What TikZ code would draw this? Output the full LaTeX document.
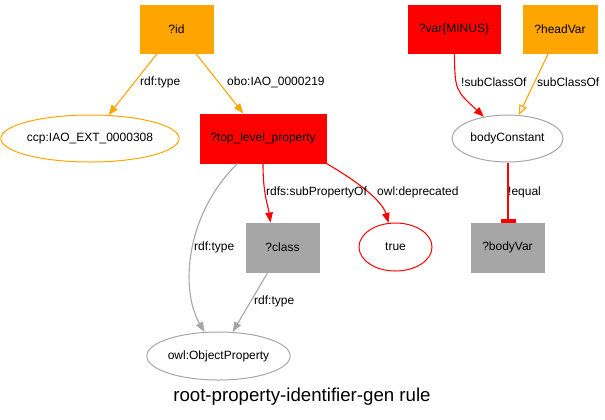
\documentclass[tikz,border=0pt]{standalone}
\usepackage{fontspec}
\setmainfont{Liberation Sans}
\usetikzlibrary{arrows.meta,shapes.geometric}
\definecolor{gvorange}{HTML}{FFA500}
\definecolor{gvred}{HTML}{FF0000}
\definecolor{gvgray}{HTML}{A6A6A6}
\begin{document}
\begin{tikzpicture}[x=1bp,y=-1bp,
  every node/.style={font=\fontsize{12bp}{14bp}\selectfont, text=black},
  boxnode/.style={rectangle, inner sep=0pt, minimum height=48bp, line width=1bp},
  obox/.style={boxnode, fill=gvorange, draw=gvorange},
  rbox/.style={boxnode, fill=gvred, draw=gvred},
  gbox/.style={boxnode, fill=gvgray, draw=gvgray},
  ell/.style={ellipse, inner sep=0pt, line width=1bp, minimum height=47bp},
  lbl/.style={anchor=west, inner sep=0pt},
  tipf/.tip={Triangle[length=10bp,width=7.5bp]},
  oedge/.style={color=gvorange, line width=1.1bp, -tipf},
  redge/.style={color=gvred, line width=1.1bp, -tipf},
  gedge/.style={color=gvgray, line width=1.1bp, -tipf}]
\useasboundingbox (0,0) rectangle (605,419);
% nodes
\node[obox, minimum width=73bp] (id) at (176.5,29) {?id};
\node[ell, draw=gvorange, minimum width=170bp] (ccp) at (90,138.5) {ccp:IAO\_EXT\_0000308};
\node[rbox, minimum width=126bp, minimum height=49bp] (top) at (263,138.5) {?top\_level\_property};
\node[rbox, minimum width=92bp] (var) at (454,29) {?var\{MINUS\}};
\node[obox, minimum width=74bp] (hv) at (560,29) {?headVar};
\node[ell, draw=gvgray, minimum width=111bp] (bc) at (507.5,138.5) {bodyConstant};
\node[gbox, minimum width=73bp, minimum height=49bp] (bv) at (507.5,247.5) {?bodyVar};
\node[ell, draw=gvred, minimum width=73bp, minimum height=48bp] (tr) at (395.5,247) {true};
\node[gbox, minimum width=73bp, minimum height=49bp] (cl) at (282.5,247.5) {?class};
\node[ell, draw=gvgray, minimum width=143bp, minimum height=48bp] (obj) at (218.5,356) {owl:ObjectProperty};
\node[font=\fontsize{18.67bp}{22bp}\selectfont] (title) at (302,397) {root-property-identifier-gen rule};
% edges
\draw[oedge] (id) -- (ccp);
\draw[oedge] (id) -- (top);
\draw[gedge] (top) .. controls (185,215) and (180,290) .. (obj);
\draw[redge] (top.south) .. controls (263,195) and (268,205) .. ([xshift=-12bp]cl.north);
\draw[redge] (top.south east) .. controls (355,180) and (382,200) .. (tr);
\draw[gedge] (cl) -- (obj);
\draw[redge] (var) .. controls (455,90) .. (bc);
\draw[oedge, -{Triangle[open,length=10bp,width=8bp]}] (hv) -- (bc);
\draw[redge, -, line width=1.6bp] ([xshift=0.5bp]bc.south) -- ([xshift=0.5bp]bv.north);
\fill[gvred] ([xshift=-7bp]bv.north) rectangle ([xshift=8bp,yshift=4bp]bv.north);
% labels
\node[lbl] (l1) at (140,82) {rdf:type};
\node[lbl] (l2) at (227,82) {obo:IAO\_0000219};
\node[lbl] (l3) at (266,192) {rdfs:subPropertyOf};
\node[lbl] (l4) at (377,192) {owl:deprecated};
\node[lbl] (l5) at (194,247) {rdf:type};
\node[lbl] (l6) at (254,301) {rdf:type};
\node[lbl] (l7) at (461,82) {!subClassOf};
\node[lbl] (l8) at (537,82) {subClassOf};
\node[lbl] (l9) at (508,192) {!equal};
\end{tikzpicture}
\end{document}
